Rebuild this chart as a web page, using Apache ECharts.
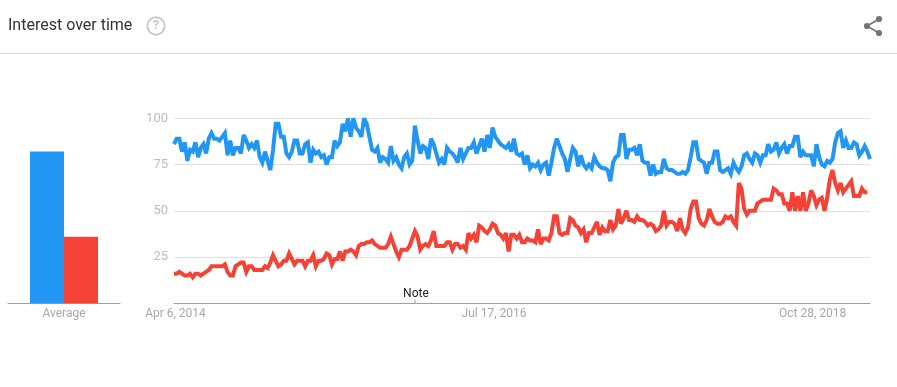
<!DOCTYPE html>
<html><head><meta charset="utf-8">
<style>html,body{margin:0;padding:0;background:#fff}#c{width:897px;height:387px}</style>
<script src="https://cdn.jsdelivr.net/npm/echarts@6/dist/echarts.min.js"></script>
</head><body><div id="c"></div>
<script>
const blueA = [86,89,89,82,87,77,83,82,87,79,84,86,81,89,92,89,89,88,90,92,80,88,80,84,84,81,91,88,84,86,84,88,79,76,82,77,72,83,97,97,90,90,81,79,82,88,88,81,81,86,87,76,83,81,82,79,80,75,79,79,88,85,87,97,93,100,90,100,95,93,90,100,97,90,83,82,84,76,79,78,76,85,77,79,75,73,79];
const blueB = [81,75,77,96,88,81,85,84,78,89,86,81,76,78,75,84,82,81,79,76,84,78,81,84,84,87,81,85,89,82,91,84,95,90,88,86,85,84,86,82,89,81,80,81,75,80,73,75,74,76,72,75,76,69,76,84,89,85,81,78,71,78,84,82,74,80,75,73,75,73,79,76,74,73,73,72,66,76,79,80,91,91,78,83,83,84,80];
const blueC = [86,77,76,76,69,75,70,71,71,78,73,72,72,71,70,70,71,70,72,79,87,87,78,77,76,70,76,76,82,82,72,71,72,73,70,76,73,71,74,80,81,78,76,81,80,76,80,80,86,82,83,87,81,84,86,81,85,85,90,90,79,82,80,80,80,74,86,79,75,74,77,76,78,87,92,93,84,88,84,84,87,86,80,82,85,82,78];
const redA = [16,16,17,16,15,15,16,14,16,16,15,16,17,18,20,20,20,20,20,21,17,15,15,20,21,22,22,17,20,20,18,18,18,18,20,19,22,26,23,20,21,23,23,27,24,21,23,23,23,20,23,23,26,20,23,23,24,27,26,21,24,24,28,23,28,28,29,28,26,31,32,32,33,33,34,32,31,30,30,30,32,36,32,28,25,29,29,29];
const redB = [31,35,39,36,29,31,32,31,34,39,31,31,31,31,33,33,29,32,32,30,31,29,38,35,37,33,42,41,39,38,40,43,42,38,37,35,38,28,37,37,35,37,33,33,35,34,34,33,40,32,35,35,34,38,47,47,38,37,38,38,46,45,42,41,38,40,33,38,38,41,44,37,41,39,39,45,40,42,51,43,46,50,45,45,44,47];
const redC = [45,45,44,42,43,42,39,40,42,50,42,44,44,43,39,46,40,38,41,51,55,55,46,43,42,45,51,47,44,43,43,44,47,46,47,44,42,65,62,51,48,50,50,50,54,55,56,56,56,56,62,61,59,59,54,54,50,60,50,58,50,60,50,54,61,58,53,56,57,50,57,67,72,65,61,65,60,62,64,66,58,58,58,62,60,60];
const averages = [82, 36];
const seriesNames = ['Search term 1', 'Search term 2'];
const yTicks = [100, 75, 50, 25];
const xTickLabels = ['Apr 6, 2014', 'Jul 17, 2016', 'Oct 28, 2018'];
const noteWeek = 90;

const blue = blueA.concat(blueB, blueC);
const red = redA.concat(redB, redC);
const MONTHS = ['Jan','Feb','Mar','Apr','May','Jun','Jul','Aug','Sep','Oct','Nov','Dec'];
const start = Date.UTC(2014, 3, 6);
const weeks = blue.map((_, i) => {
  const d = new Date(start + i * 7 * 864e5);
  return MONTHS[d.getUTCMonth()] + ' ' + d.getUTCDate() + ', ' + d.getUTCFullYear();
});
const BLUE = '#2196f3', RED = '#f44336', LABEL = '#a8a8a8';
const chart = echarts.init(document.getElementById('c'), null, {renderer:'canvas'});
chart.setOption({
  animation:false,
  backgroundColor:'#fff',
  textStyle:{fontFamily:'Roboto'},
  grid:[
    {left:174,top:118.3,width:696,height:185},
    {left:8,top:118.3,width:112,height:185}
  ],
  xAxis:[
    {type:'category',gridIndex:0,data:weeks,boundaryGap:false,
     axisLine:{lineStyle:{color:'#a0a0a0',width:1}},axisTick:{show:false},
     axisLabel:{color:LABEL,fontSize:12,margin:5,fontFamily:'Roboto',hideOverlap:false,padding:[0,0,0,3],
       interval:(i,v)=>xTickLabels.includes(v)}},
    {type:'category',gridIndex:1,data:['Average'],
     axisLine:{lineStyle:{color:'#a0a0a0',width:1}},axisTick:{show:false},
     axisLabel:{color:LABEL,fontSize:12,margin:5,fontFamily:'Roboto'}}
  ],
  yAxis:[
    {type:'value',gridIndex:0,min:0,max:100,interval:25,
     axisLine:{show:false},axisTick:{show:false},
     splitLine:{lineStyle:{color:'#e0e0e0',width:1}},
     axisLabel:{color:'#bdbdbd',fontSize:13,margin:6,padding:[1,0,0,0],fontFamily:'Roboto',
       formatter:v=>yTicks.includes(v)?String(v):''}},
    {type:'value',gridIndex:1,min:0,max:100,show:false}
  ],
  series:[
    {name:seriesNames[0],type:'line',data:blue,showSymbol:false,symbol:'none',clip:false,
     lineStyle:{color:BLUE,width:4,join:'miter',miterLimit:3},z:3},
    {name:seriesNames[1],type:'line',data:red,showSymbol:false,symbol:'none',clip:false,
     lineStyle:{color:RED,width:4,join:'miter',miterLimit:3},z:3,
     markPoint:{symbol:'rect',symbolSize:[1,4],silent:true,
       itemStyle:{color:'#9e9e9e'},
       label:{show:true,position:'top',distance:-1,offset:[1,0],color:'#222',fontSize:12,fontFamily:'Roboto',formatter:'Note'},
       data:[{coord:[noteWeek,1]}]}},
    {name:seriesNames[0],type:'bar',xAxisIndex:1,yAxisIndex:1,data:[averages[0]],barWidth:34,barGap:0,itemStyle:{color:BLUE}},
    {name:seriesNames[1],type:'bar',xAxisIndex:1,yAxisIndex:1,data:[averages[1]],barWidth:34,barGap:0,itemStyle:{color:RED}}
  ],
  graphic:[
    {type:'text',left:8,top:18,style:{text:'Interest over time',fill:'#333',font:'16px Roboto'}},
    {type:'circle',shape:{cx:156,cy:26,r:8.7},style:{fill:'none',stroke:'#c9c9c9',lineWidth:2}},
    {type:'text',x:156,y:26,style:{text:'?',fill:'#c9c9c9',font:'bold 13px Roboto',align:'center',verticalAlign:'middle'}},
    {type:'rect',shape:{x:0,y:53,width:897,height:1},style:{fill:'#e0e0e0'}},
    {type:'polyline',shape:{points:[[879,19],[867,26],[879,33]]},style:{fill:'none',stroke:'#757575',lineWidth:1.6}},
    {type:'circle',shape:{cx:879,cy:19,r:3.1},style:{fill:'#757575'}},
    {type:'circle',shape:{cx:867,cy:26,r:3.1},style:{fill:'#757575'}},
    {type:'circle',shape:{cx:879,cy:33,r:3.1},style:{fill:'#757575'}}
  ]
});
</script></body></html>
